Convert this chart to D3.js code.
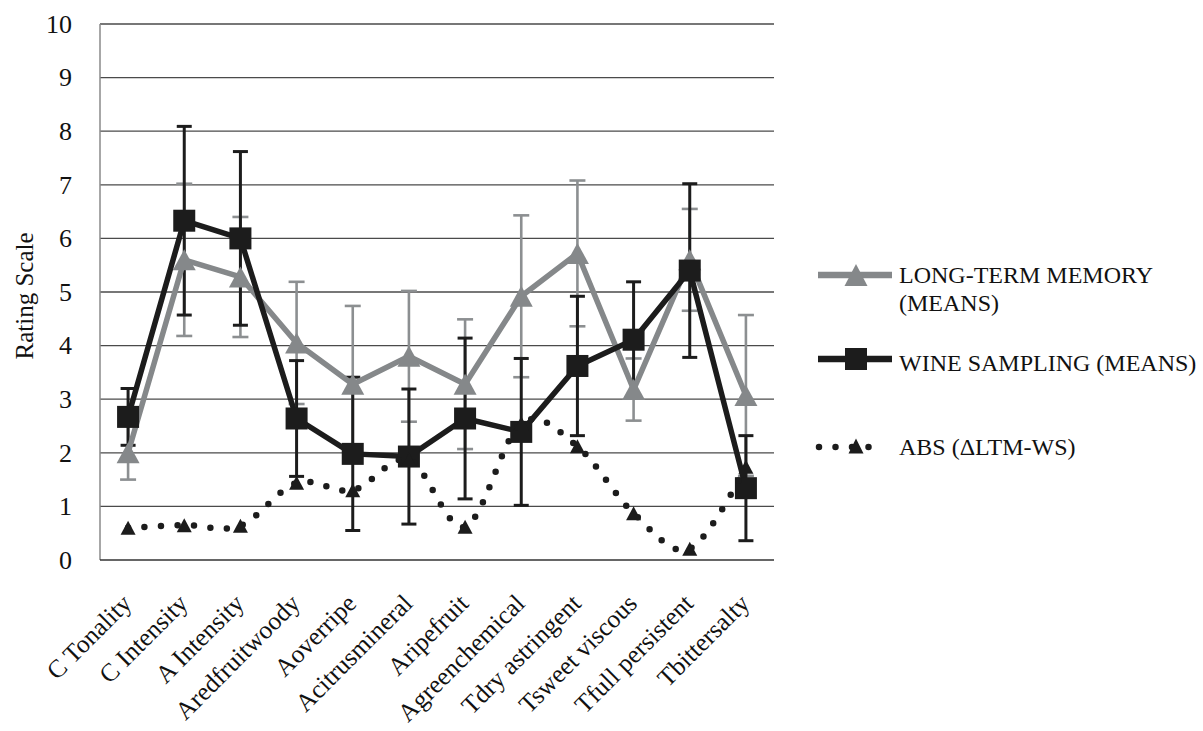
<!DOCTYPE html>
<html>
<head>
<meta charset="utf-8">
<script src="https://cdn.jsdelivr.net/npm/d3@7"></script>
<style>
  html, body { margin: 0; padding: 0; background: #fff; }
  svg { display: block; }
  text { font-family: "Liberation Serif", "Times New Roman", serif; fill: #111; }
</style>
</head>
<body>
<svg id="chart" width="1203" height="731"></svg>
<script>
const categories = ["C Tonality","C Intensity","A Intensity","Aredfruitwoody","Aoverripe","Acitrusmineral","Aripefruit","Agreenchemical","Tdry astringent","Tsweet viscous","Tfull persistent","Tbittersalty"];
const ltmMeans = [2.0, 5.6, 5.28, 4.05, 3.28, 3.8, 3.28, 4.92, 5.72, 3.18, 5.6, 3.07];
const ltmSD    = [0.5, 1.42, 1.12, 1.14, 1.46, 1.22, 1.21, 1.51, 1.36, 0.58, 0.95, 1.5];
const wsMeans  = [2.67, 6.33, 6.0, 2.64, 1.98, 1.93, 2.64, 2.39, 3.62, 4.11, 5.4, 1.34];
const wsSD     = [0.53, 1.76, 1.62, 1.08, 1.43, 1.26, 1.5, 1.37, 1.3, 1.08, 1.62, 0.98];
const absDiff  = [0.6, 0.65, 0.64, 1.44, 1.3, 1.87, 0.62, 2.55, 2.12, 0.87, 0.21, 1.74];
const yTicks = [0,1,2,3,4,5,6,7,8,9,10];
const yTitle = "Rating Scale";
const legendLabels = [["LONG-TERM MEMORY","(MEANS)"],["WINE SAMPLING (MEANS)"],["ABS (\u0394LTM-WS)"]];

const svg = d3.select("#chart");
const L = 100, R = 774, T = 24, B = 560;
const x = d3.scaleBand().domain(categories).range([L, R]).padding(0);
const cx = c => x(c) + x.bandwidth() / 2;
const y = d3.scaleLinear().domain([0, 10]).range([B, T]);

const GRAY = "#85888a", BLACK = "#1c1c1c";

// gridlines
svg.append("g").selectAll("line").data(yTicks.filter(t => t > 0)).join("line")
  .attr("x1", L).attr("x2", R).attr("y1", d => y(d)).attr("y2", d => y(d))
  .attr("stroke", "#4a4a4a").attr("stroke-width", 1.3);
// axes lines
svg.append("line").attr("x1", L).attr("x2", L).attr("y1", T).attr("y2", B).attr("stroke", "#8a8a8a").attr("stroke-width", 1.5);
svg.append("line").attr("x1", L).attr("x2", R).attr("y1", B).attr("y2", B).attr("stroke", "#333").attr("stroke-width", 1.6);

// y axis labels
const yAxis = d3.axisLeft(y).tickValues(yTicks).tickSize(0).tickPadding(28).tickFormat(d3.format("d"));
const ga = svg.append("g").attr("transform", `translate(${L},0)`).call(yAxis);
ga.select(".domain").remove();
ga.selectAll("text").attr("font-size", 26).attr("font-family", "Liberation Serif").attr("fill", "#111");

// y title
svg.append("text").attr("transform", `translate(33,296) rotate(-90)`).attr("text-anchor", "middle")
  .attr("font-size", 25).text(yTitle);

// x labels
svg.append("g").selectAll("text").data(categories).join("text")
  .attr("transform", d => `translate(${cx(d) + 5},${B + 45}) rotate(-45)`)
  .attr("text-anchor", "end").attr("font-size", 25.5).text(d => d);

// helper shapes
function triPath(w, h) { return `M0,${-h/2}L${w/2},${h/2}L${-w/2},${h/2}Z`; }
function errorBars(g, means, sds, color, sw, capW) {
  const gg = g.append("g").attr("stroke", color).attr("stroke-width", sw).attr("fill", "none");
  categories.forEach((c, i) => {
    const xc = cx(c), y1 = y(means[i] + sds[i]), y0 = y(means[i] - sds[i]);
    gg.append("line").attr("x1", xc).attr("x2", xc).attr("y1", y1).attr("y2", y0);
    gg.append("line").attr("x1", xc - capW/2).attr("x2", xc + capW/2).attr("y1", y1).attr("y2", y1);
    gg.append("line").attr("x1", xc - capW/2).attr("x2", xc + capW/2).attr("y1", y0).attr("y2", y0);
  });
}

// error bars first (behind series)
errorBars(svg, ltmMeans, ltmSD, "#8c8f91", 2.6, 16);
errorBars(svg, wsMeans, wsSD, BLACK, 3, 15);

// LTM series
svg.append("path").datum(ltmMeans).attr("fill", "none").attr("stroke", GRAY).attr("stroke-width", 5.5)
  .attr("stroke-linejoin", "round")
  .attr("d", d3.line().x((d, i) => cx(categories[i])).y(d => y(d)));
svg.append("g").selectAll("path").data(ltmMeans).join("path")
  .attr("transform", (d, i) => `translate(${cx(categories[i])},${y(d)})`)
  .attr("d", triPath(23, 21)).attr("fill", GRAY);

// WS series
svg.append("path").datum(wsMeans).attr("fill", "none").attr("stroke", BLACK).attr("stroke-width", 5.5)
  .attr("stroke-linejoin", "round")
  .attr("d", d3.line().x((d, i) => cx(categories[i])).y(d => y(d)));
svg.append("g").selectAll("rect").data(wsMeans).join("rect")
  .attr("x", (d, i) => cx(categories[i]) - 11).attr("y", d => y(d) - 11)
  .attr("width", 22).attr("height", 22).attr("fill", BLACK);

// ABS series (smoothed dotted)
svg.append("path").datum(absDiff).attr("fill", "none").attr("stroke", BLACK).attr("stroke-width", 6.5)
  .attr("stroke-linecap", "round").attr("stroke-dasharray", "0 16.5")
  .attr("d", d3.line().curve(d3.curveCatmullRom.alpha(0)).x((d, i) => cx(categories[i])).y(d => y(d)));
svg.append("g").selectAll("path").data(absDiff).join("path")
  .attr("transform", (d, i) => `translate(${cx(categories[i])},${y(d)})`)
  .attr("d", triPath(15, 14)).attr("fill", BLACK);

// legend
const lg = svg.append("g");
const lx0 = 818, lx1 = 892, lmid = 856, tx = 899;
lg.append("line").attr("x1", lx0).attr("x2", lx1).attr("y1", 275).attr("y2", 275).attr("stroke", GRAY).attr("stroke-width", 6.5);
lg.append("path").attr("transform", `translate(${lmid},${275})`).attr("d", triPath(23, 22)).attr("fill", GRAY);
lg.append("text").attr("x", tx).attr("y", 283).attr("font-size", 24).text(legendLabels[0][0]);
lg.append("text").attr("x", tx).attr("y", 311).attr("font-size", 24).text(legendLabels[0][1]);
lg.append("line").attr("x1", lx0).attr("x2", lx1).attr("y1", 359).attr("y2", 359).attr("stroke", BLACK).attr("stroke-width", 6.5);
lg.append("rect").attr("x", lmid - 11).attr("y", 359 - 11).attr("width", 22).attr("height", 22).attr("fill", BLACK);
lg.append("text").attr("x", tx).attr("y", 371).attr("font-size", 24).text(legendLabels[1][0]);
lg.append("line").attr("x1", 819).attr("x2", 885).attr("y1", 447).attr("y2", 447).attr("stroke", BLACK).attr("stroke-width", 6.5)
  .attr("stroke-linecap", "round").attr("stroke-dasharray", "0 16.5");
lg.append("path").attr("transform", `translate(${lmid},${446})`).attr("d", triPath(15, 15)).attr("fill", BLACK);
lg.append("text").attr("x", tx).attr("y", 455).attr("font-size", 24).text(legendLabels[2][0]);
</script>
</body>
</html>
